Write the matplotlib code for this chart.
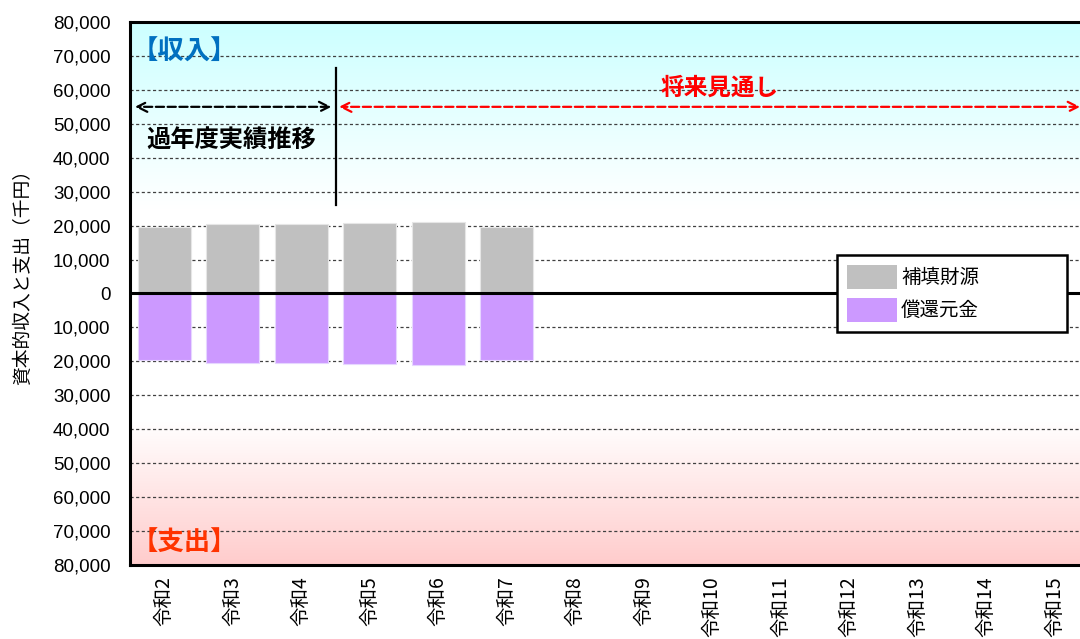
'''Capital income and expenditure chart (令和2 - 令和15).'''

import numpy as np
import matplotlib
matplotlib.use('Agg')
import matplotlib.pyplot as plt
from matplotlib.ticker import FuncFormatter
from matplotlib.patches import Patch

plt.rcParams['font.family'] = ['Noto Sans CJK JP', 'DejaVu Sans']

# data (千円)
years = ['令和2', '令和3', '令和4', '令和5', '令和6', '令和7', '令和8',
         '令和9', '令和10', '令和11', '令和12', '令和13', '令和14', '令和15']
hoten = [19600, 20400, 20500, 20900, 21100, 19500]      # 補填財源 (収入)
shokan = [19600, 20400, 20500, 20900, 21100, 19500]     # 償還元金 (支出)
yticks = list(range(-80000, 80001, 10000))

fig = plt.figure(figsize=(10.8, 6.39), dpi=100)
ax = fig.add_axes([0.1204, 0.1158, 0.888, 0.8498])

n = len(years)
x = np.arange(n)
ax.set_xlim(-0.5, n - 0.5)
ax.set_ylim(-80000, 80000)

# background gradient: cyan at top, white in the middle, pink at bottom
ys = np.linspace(80000, -80000, 400)
top = np.clip((ys - 25000) / 55000, 0, 1)
bot = np.clip((-ys - 38000) / 42000, 0, 1)
cyan = np.array([0.80, 1.0, 1.0])
pink = np.array([1.0, 0.80, 0.80])
white = np.array([1.0, 1.0, 1.0])
img = (white[None, :] * (1 - top - bot)[:, None] + cyan[None, :] * top[:, None]
       + pink[None, :] * bot[:, None])
ax.imshow(img[:, None, :], extent=(-0.5, n - 0.5, -80000, 80000),
          aspect='auto', zorder=0, interpolation='bilinear')

# grid
for v in yticks:
    if v != 0 and abs(v) != 80000:
        ax.axhline(v, color='#404040', lw=0.9, ls=(0, (2.5, 2)), zorder=1)
ax.axhline(0, color='black', lw=2.2, zorder=4)

# bars
bw = 0.77
ax.bar(x[:len(hoten)], hoten, width=bw, color='#c0c0c0', edgecolor='#e6e6e6',
       lw=0.8, zorder=3, label='補填財源')
ax.bar(x[:len(shokan)], [-v for v in shokan], width=bw, color='#cc99ff',
       edgecolor='#e6d6ff', lw=0.8, zorder=3, label='償還元金')

ax.set_xticks(x)
ax.set_xticklabels(years, rotation=90, fontsize=14, va='top')
ax.tick_params(axis='x', length=0, pad=8)
ax.set_yticks(yticks)
ax.yaxis.set_major_formatter(FuncFormatter(lambda v, p: f'{abs(int(v)):,}'))
ax.tick_params(axis='y', length=0, pad=14, labelsize=13.5)
for lab in ax.get_yticklabels():
    lab.set_family(['Liberation Sans', 'DejaVu Sans'])
ax.set_ylabel('資本的収入と支出（千円）', fontsize=13.5)
ax.yaxis.set_label_coords(-0.101, 0.538)

for s in ax.spines.values():
    s.set_linewidth(2.2)
    s.set_zorder(6)

# annotations
ax.plot([2.5, 2.5], [26000, 66500], color='black', lw=1.6, zorder=5)
ax.annotate('', xy=(-0.43, 55000), xytext=(2.44, 55000),
            arrowprops=dict(arrowstyle='<->', color='black', lw=1.6, ls='--',
                            mutation_scale=18, shrinkA=0, shrinkB=0), zorder=5)
ax.annotate('', xy=(2.55, 55000), xytext=(13.37, 55000),
            arrowprops=dict(arrowstyle='<->', color='red', lw=1.6, ls='--',
                            mutation_scale=18, shrinkA=0, shrinkB=0), zorder=5)
ax.text(0.97, 45000, '過年度実績推移', fontsize=17.5, fontweight='bold',
        ha='center', va='center', zorder=5)
ax.text(8.1, 60500, '将来見通し', fontsize=17, fontweight='bold', color='red',
        ha='center', va='center', zorder=5)
ax.text(-0.47, 71000, '【収入】', fontsize=19, fontweight='bold', color='#0070c0',
        ha='left', va='center', zorder=5)
ax.text(-0.47, -73500, '【支出】', fontsize=19, fontweight='bold', color='#ff3300',
        ha='left', va='center', zorder=5)

handles = [Patch(facecolor='#c0c0c0', label='補填財源'),
           Patch(facecolor='#cc99ff', label='償還元金')]
leg = ax.legend(handles=handles, loc='upper left',
                bbox_to_anchor=(0.737, 0.571, 0.24, 0.0), mode='expand',
                fontsize=14, frameon=True, fancybox=False, handlelength=2.6,
                handleheight=1.55, borderpad=0.5, labelspacing=0.45,
                handletextpad=0.2, borderaxespad=0, framealpha=1)
leg.get_frame().set_edgecolor('black')
leg.get_frame().set_linewidth(1.8)
leg.set_zorder(7)

fig.savefig('out.png', dpi=100)
